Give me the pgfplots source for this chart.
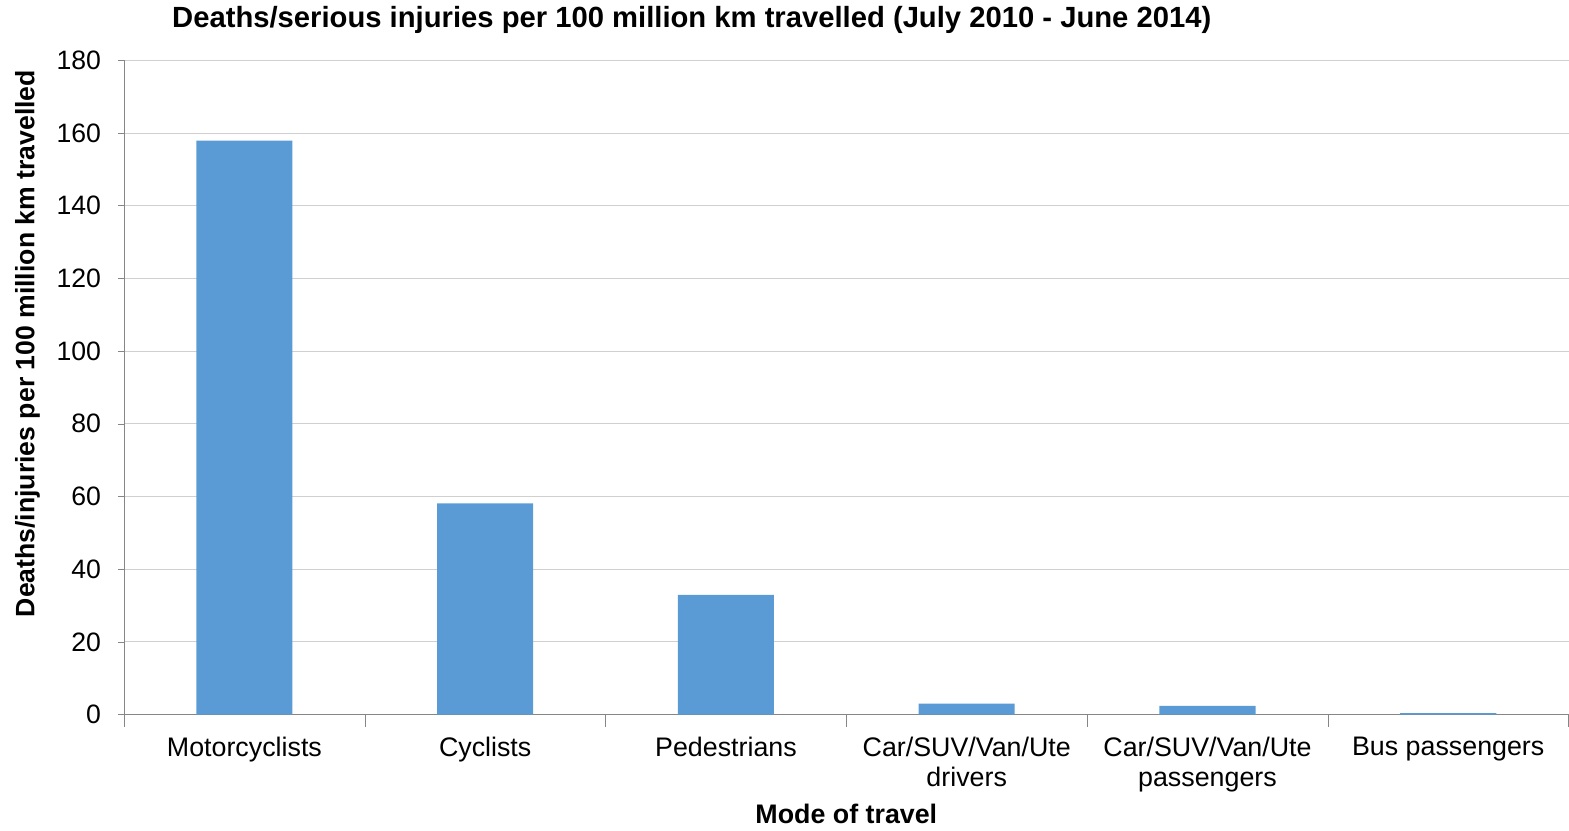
\documentclass[border=0pt]{standalone}
\usepackage{fontspec}
\setmainfont{Liberation Sans}
\usepackage{pgfplots}
\pgfplotsset{compat=1.18}
\definecolor{barblue}{RGB}{91,155,213}
\definecolor{axgray}{RGB}{134,134,134}
\definecolor{gridgray}{RGB}{208,208,208}
\begin{document}
\begin{tikzpicture}
\begin{axis}[
  width=722pt, height=327pt, scale only axis,
  xmin=-0.5, xmax=5.5, ymin=0, ymax=180,
  axis x line=bottom, axis y line=left,
  axis line style={draw=axgray, -},
  xtick={0,1,2,3,4,5},
  xticklabels={Motorcyclists,Cyclists,Pedestrians,{Car/SUV/Van/Ute\\drivers},{Car/SUV/Van/Ute\\passengers},Bus passengers},
  x tick label style={align=center, font=\fontsize{13.4}{15}\selectfont, yshift=-4.5pt},
  major x tick style={draw=none},
  minor xtick={-0.5,0.5,1.5,2.5,3.5,4.5,5.5},
  minor x tick style={draw=axgray},
  minor tick length=6pt,
  ytick={0,20,...,180},
  y tick label style={font=\fontsize{13.3}{15}\selectfont, xshift=-5pt},
  /pgf/number format/assume math mode=true,
  major y tick style={draw=axgray},
  major tick length=3pt,
  tick align=outside,
  ymajorgrids, grid style={gridgray},
  ybar, bar width=48pt,
  xlabel={\bfseries Mode of travel},
  xlabel style={font=\fontsize{13.4}{15}\selectfont, yshift=0.5pt},
  ylabel={\bfseries Deaths/injuries per 100 million km travelled},
  ylabel style={font=\fontsize{13.3}{15}\selectfont, at={(axis description cs:-0.0668,0.567)}, anchor=center},
  title={\bfseries Deaths/serious injuries per 100 million km travelled (July 2010 - June 2014)},
  title style={font=\fontsize{14.6}{16}\selectfont, at={(axis description cs:0.393,1)}, anchor=center, yshift=14pt},
  clip=false,
]
\addplot[fill=barblue, draw=none] coordinates {
  (0,157.9) (1,58.1) (2,32.9) (3,3.0) (4,2.4) (5,0.4)
};
\end{axis}
\path (current axis.south west) ++(-62pt,0pt);
\end{tikzpicture}
\end{document}
